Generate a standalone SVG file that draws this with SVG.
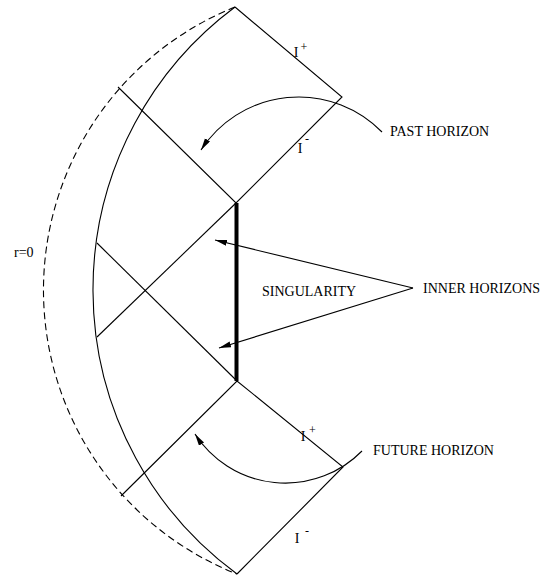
<svg xmlns="http://www.w3.org/2000/svg" width="549" height="578" viewBox="0 0 549 578">
<style>
.ln{fill:none;stroke:#000;stroke-width:1.1}
.ds{fill:none;stroke:#000;stroke-width:1.1;stroke-dasharray:7 4}
.sing{fill:none;stroke:#000;stroke-width:4}
.ar{fill:none;stroke:#000;stroke-width:1.1;marker-end:url(#ah)}
text{font-family:"Liberation Serif","Times New Roman",serif;font-size:14px;fill:#000}
.sup{font-size:12px}
</style>
<defs>
<marker id="ah" markerUnits="userSpaceOnUse" markerWidth="13" markerHeight="7" refX="12" refY="3" orient="auto">
<path d="M0,0 L12,3 L0,6 z" fill="#000"/>
</marker>
</defs>
<rect width="549" height="578" fill="#fff"/>
<g id="diagram">
<path id="r0-dashed" class="ds" d="M235,7 A305,305 0 0 0 237,574"/>
<path id="inner-arc" class="ln" d="M235,7 A352.5,352.5 0 0 0 237,574"/>
<g id="top-region">
<polyline class="ln" points="118,87 236,203 342,97 235,7"/>
</g>
<g id="middle-region">
<line class="ln" x1="236" y1="203" x2="97" y2="337"/>
<line class="ln" x1="97" y1="243" x2="237" y2="381"/>
</g>
<g id="bottom-region">
<polyline class="ln" points="121,496 237,381 343,467 237,574"/>
</g>
<g id="singularity">
<line class="sing" x1="236.5" y1="203" x2="236.5" y2="381"/>
</g>
</g>
<g id="connectors">
<path class="ar" d="M382,132 A116.5,116.5 0 0 0 201,150"/>
<path class="ar" d="M362,451 A107.6,107.6 0 0 1 195,434"/>
<line class="ar" x1="413" y1="288" x2="215" y2="240"/>
<line class="ar" x1="413" y1="288" x2="219" y2="348"/>
</g>
<g id="labels">
<text x="296" y="57" text-anchor="middle">I</text><text class="sup" x="304" y="51" text-anchor="middle">+</text>
<text x="300" y="153" text-anchor="middle">I</text><text class="sup" x="307" y="143" text-anchor="middle">-</text>
<text x="303" y="441" text-anchor="middle">I</text><text class="sup" x="312.5" y="434" text-anchor="middle">+</text>
<text x="297" y="543" text-anchor="middle">I</text><text class="sup" x="307" y="535" text-anchor="middle">-</text>
<text x="14" y="257">r=0</text>
<text x="390" y="136">PAST HORIZON</text>
<text x="262" y="296">SINGULARITY</text>
<text x="423" y="293">INNER HORIZONS</text>
<text x="373" y="455">FUTURE HORIZON</text>
</g>
</svg>
